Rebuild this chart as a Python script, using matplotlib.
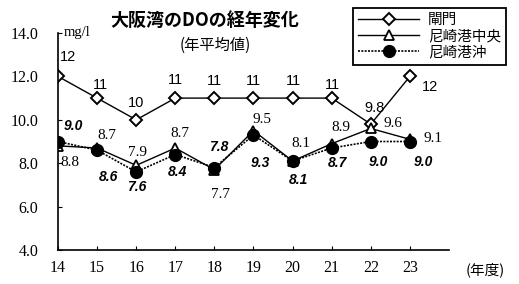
import numpy as np
import matplotlib
matplotlib.use('Agg')
import matplotlib.pyplot as plt

plt.rcParams['font.family'] = ['Noto Sans CJK JP', 'DejaVu Sans']

years = [14, 15, 16, 17, 18, 19, 20, 21, 22, 23]
gate = [12, 11, 10, 11, 11, 11, 11, 11, 9.8, 12]
center = [8.8, 8.7, 7.9, 8.7, 7.7, 9.5, 8.1, 8.9, 9.6, 9.1]
offshore = [9.0, 8.6, 7.6, 8.4, 7.8, 9.3, 8.1, 8.7, 9.0, 9.0]

gate_text = ['12', '11', '10', '11', '11', '11', '11', '11', '9.8', '12']
center_text = ['8.8', '8.7', '7.9', '8.7', '7.7', '9.5', '8.1', '8.9', '9.6', '9.1']
offshore_text = ['9.0', '8.6', '7.6', '8.4', '7.8', '9.3', '8.1', '8.7', '9.0', '9.0']

labels = ['閘門', '尼崎港中央', '尼崎港沖']
y_ticks = [4.0, 6.0, 8.0, 10.0, 12.0, 14.0]

# label offsets in pixels (dx, dy) relative to the point
gate_off = [(10, 19), (3, 13), (0, 17), (0, 18), (0, 17), (0, 17), (1, 17), (1, 13), (4, 16), (20, -11)]
center_off = [(12, -17), (10, 13), (1, 13), (5, 15), (6, -25), (9, 11), (8, 18), (9, 16), (22, 5), (23, 1)]
off_off = [(15, 15), (11, -27), (1, -15), (2, -17), (4, 21), (7, -28), (6, -19), (6, -15), (8, -20), (13, -21)]

fig = plt.figure(figsize=(5.19, 2.84), dpi=100)
ax = fig.add_axes([58 / 519, 1 - 250 / 284, 391 / 519, 217 / 284])

l1, = ax.plot(years, gate, color='black', lw=1.0, marker='D', ms=6,
              mfc='white', mec='black', mew=1.4)
l2, = ax.plot(years, center, color='black', lw=1.0, marker='^', ms=7,
              mfc='white', mec='black', mew=1.3)
l3, = ax.plot(years, offshore, color='black', lw=1.2, ls=(0, (1.2, 0.8)),
              marker='o', ms=8.5, mfc='black', mec='black')

serif = ['Liberation Serif', 'DejaVu Serif']
px = 0.72  # pixels to points
for x, y, t, o in zip(years, gate, gate_text, gate_off):
    ax.annotate(t, (x, y), xytext=(o[0] * px, o[1] * px), textcoords='offset points',
                ha='center', va='center', fontsize=10.5, family=['Liberation Sans', 'DejaVu Sans'])
for x, y, t, o in zip(years, center, center_text, center_off):
    ax.annotate(t, (x, y), xytext=(o[0] * px, o[1] * px), textcoords='offset points',
                ha='center', va='center', fontsize=11, family=serif)
for x, y, t, o in zip(years, offshore, offshore_text, off_off):
    ax.annotate(t, (x, y), xytext=(o[0] * px, o[1] * px), textcoords='offset points',
                ha='center', va='center', fontsize=10, fontweight='bold', fontstyle='italic',
                family=['Liberation Sans', 'DejaVu Sans'])

ax.set_xlim(14, 24)
ax.set_ylim(4, 14)
ax.set_xticks(years)
ax.set_xticklabels([str(y) for y in years], family=serif, fontsize=11.5)
ax.set_yticks(y_ticks)
ax.set_yticklabels([f'{v:.1f}' for v in y_ticks], family=serif, fontsize=11.5)
ax.tick_params(axis='y', direction='in', length=3, pad=14)
ax.tick_params(axis='x', direction='in', length=3, pad=7)
ax.spines['top'].set_visible(False)
ax.spines['right'].set_visible(False)
ax.spines['left'].set_linewidth(1.2)
ax.spines['bottom'].set_linewidth(1.2)
ax.patch.set_alpha(0)

ax.text(14.15, 14.0, 'mg/l', family=serif, fontsize=10.5, va='center', ha='left')

fig.text(205 / 519, 1 - 20 / 284, '大阪湾のDOの経年変化', fontsize=13, fontweight='bold',
         ha='center', va='center')
fig.text(215 / 519, 1 - 45 / 284, '(年平均値)', fontsize=11, ha='center', va='center')
fig.text(485 / 519, 1 - 270 / 284, '(年度)', fontsize=10.5, ha='center', va='center')

leg = fig.legend([l1, l2, l3], labels, loc='upper left',
                 bbox_to_anchor=(353 / 519, 1 - 8 / 284), borderaxespad=0,
                 fancybox=False, edgecolor='black', framealpha=1,
                 fontsize=10.5, handlelength=4.2, labelspacing=0.15,
                 borderpad=0.35, handletextpad=0.6)
leg.get_frame().set_linewidth(1.3)

fig.savefig('out.png', dpi=100)
